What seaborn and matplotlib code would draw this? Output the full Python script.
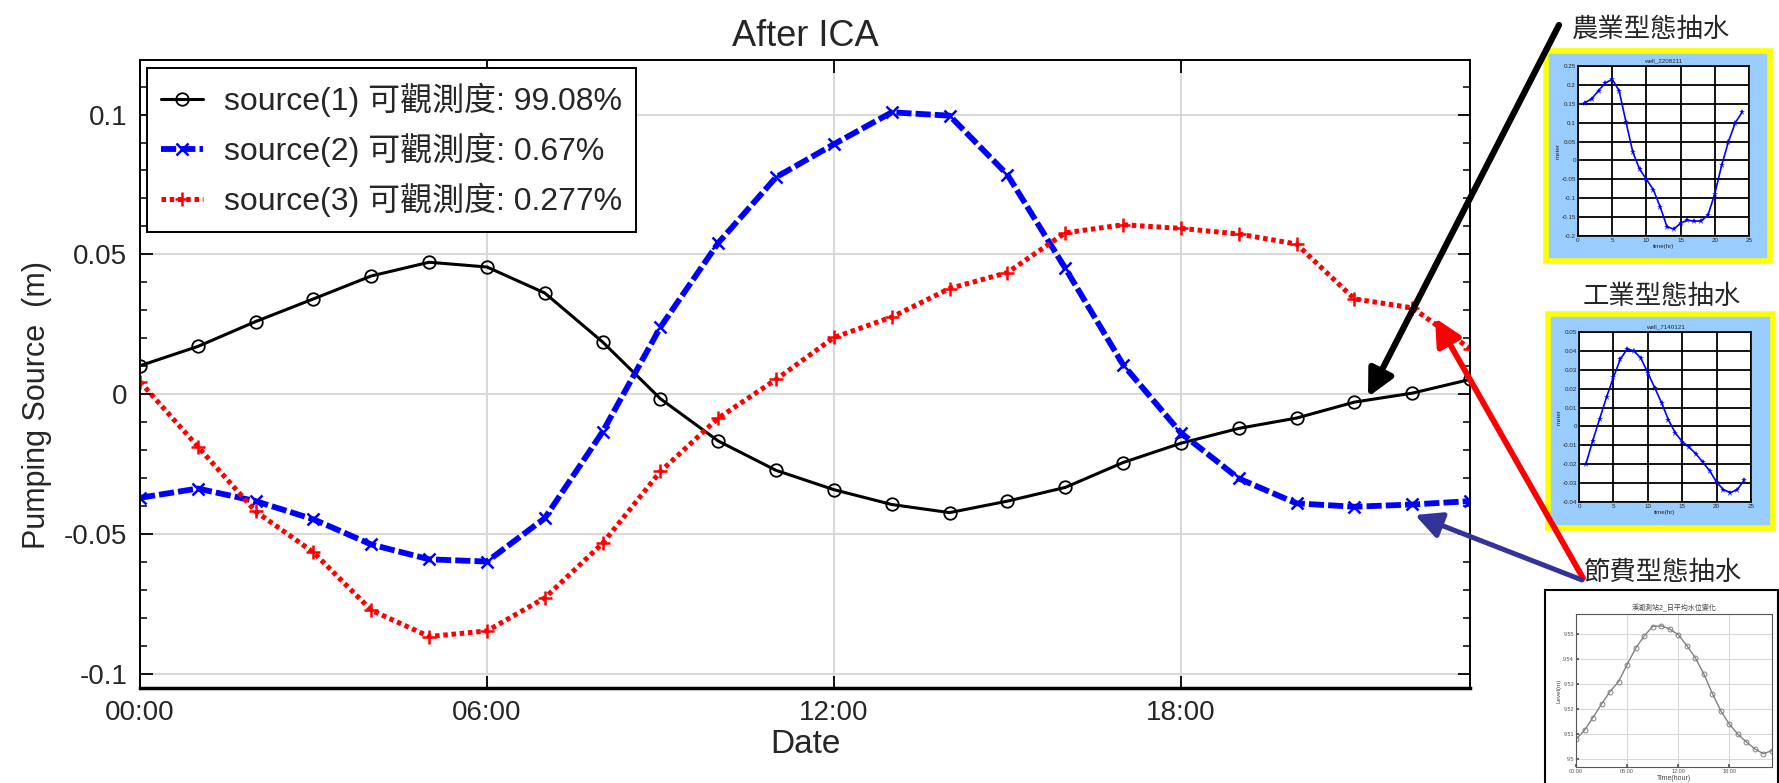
import matplotlib
matplotlib.use("Agg")
import matplotlib.pyplot as plt
from matplotlib.patches import Rectangle, FancyArrowPatch
from matplotlib.ticker import FixedLocator, MultipleLocator
import seaborn as sns

# --------------------------------------------------------------------------- #
# Data
# --------------------------------------------------------------------------- #
HOURS = list(range(24))
SOURCE1 = [0.0102, 0.0171, 0.0260, 0.0341, 0.0423, 0.0472, 0.0455, 0.0362,
           0.0187, -0.0016, -0.0167, -0.0272, -0.0341, -0.0394, -0.0423, -0.0382,
           -0.0333, -0.0244, -0.0175, -0.0122, -0.0085, -0.0028, 0.0004, 0.0053]
SOURCE2 = [-0.0370, -0.0337, -0.0382, -0.0447, -0.0537, -0.0590, -0.0598, -0.0443,
           -0.0134, 0.0240, 0.0541, 0.0776, 0.0894, 0.1008, 0.0996, 0.0785,
           0.0451, 0.0106, -0.0138, -0.0301, -0.0390, -0.0402, -0.0394, -0.0382]
SOURCE3 = [0.0045, -0.0187, -0.0419, -0.0565, -0.0772, -0.0866, -0.0846, -0.0728,
           -0.0533, -0.0276, -0.0085, 0.0053, 0.0203, 0.0276, 0.0378, 0.0435,
           0.0577, 0.0606, 0.0593, 0.0573, 0.0537, 0.0341, 0.0309, 0.0163]
LABELS = ["source(1) 可觀測度: 99.08%",
          "source(2) 可觀測度: 0.67%",
          "source(3) 可觀測度: 0.277%"]
X_TICKS = [0, 6, 12, 18]
X_TICK_LABELS = ["00:00", "06:00", "12:00", "18:00"]
Y_TICKS = [-0.1, -0.05, 0, 0.05, 0.1]
Y_TICK_LABELS = ["-0.1", "-0.05", "0", "0.05", "0.1"]

# inset series (hours 1..24)
INSET_HOURS = list(range(1, 25))
AGRI = [0.153, 0.163, 0.185, 0.205, 0.215, 0.185, 0.103, 0.023, -0.023, -0.050,
        -0.077, -0.122, -0.175, -0.182, -0.166, -0.158, -0.161, -0.160, -0.145,
        -0.088, -0.013, 0.050, 0.100, 0.128]
INDU = [-0.0200, -0.0075, 0.0040, 0.0155, 0.0260, 0.0355, 0.0410, 0.0400, 0.0360,
        0.0285, 0.0205, 0.0125, 0.0035, -0.0035, -0.0080, -0.0110, -0.0145, -0.0190,
        -0.0235, -0.0295, -0.0335, -0.0350, -0.0335, -0.0285]
SAVE = [9.5079, 9.5115, 9.5166, 9.5220, 9.5270, 9.5310, 9.5378, 9.5443, 9.5492,
        9.5530, 9.5533, 9.5520, 9.5497, 9.5454, 9.5405, 9.5340, 9.5262, 9.5192,
        9.5139, 9.5099, 9.5068, 9.5040, 9.5021, 9.5034]

W, H = 1779, 783

sns.set_theme(style="ticks")
plt.rcParams["font.family"] = ["Liberation Sans", "Noto Sans CJK TC", "DejaVu Sans"]
plt.rcParams["axes.unicode_minus"] = False


def box(x0, y0, x1, y1):
    """pixel box (top-left origin) -> figure fraction rect"""
    return [x0 / W, 1 - y1 / H, (x1 - x0) / W, (y1 - y0) / H]


def fpt(x, y):
    return (x / W, 1 - y / H)


fig = plt.figure(figsize=(W / 100, H / 100), dpi=100)

# --------------------------------------------------------------------------- #
# Main chart
# --------------------------------------------------------------------------- #
ax = fig.add_axes(box(140, 60, 1470, 688))
styles = [
    dict(color="black", linestyle="-", linewidth=2.2, marker="o", markersize=9,
         markerfacecolor="none", markeredgecolor="black", markeredgewidth=1.3),
    dict(color="#0000ff", linestyle=(0, (2.6, 0.7)), linewidth=4.2, marker="x",
         markersize=9, markeredgewidth=1.8, markeredgecolor="#0000ff"),
    dict(color="#ff0000", linestyle=(0, (0.9, 0.75)), linewidth=3.6, marker="+",
         markersize=10, markeredgewidth=1.8, markeredgecolor="#ff0000"),
]
for vals, lab, st in zip([SOURCE1, SOURCE2, SOURCE3], LABELS, styles):
    sns.lineplot(x=HOURS, y=vals, ax=ax, label=lab, **st)

ax.set_xlim(0, 23)
ax.set_ylim(-0.105, 0.1195)
ax.xaxis.set_major_locator(FixedLocator(X_TICKS))
ax.set_xticklabels(X_TICK_LABELS)
ax.yaxis.set_major_locator(FixedLocator(Y_TICKS))
ax.set_yticklabels(Y_TICK_LABELS)
ax.yaxis.set_minor_locator(MultipleLocator(0.01))
ax.grid(True, which="major", color="#d9d9d9", linewidth=1.5)
ax.tick_params(which="both", direction="in", top=True, right=True, color="black")
ax.tick_params(which="major", length=9, width=1.3, labelsize=20, pad=9)
ax.tick_params(which="minor", length=5, width=1.1)
ax.tick_params(axis="x", which="minor", top=False, bottom=False)
for s in ax.spines.values():
    s.set_color("black")
    s.set_linewidth(1.4)
ax.spines["bottom"].set_linewidth(2.5)
ax.set_xlabel("Date", fontsize=24, labelpad=2)
ax.set_ylabel("Pumping Source  (m)", fontsize=22)
ax.yaxis.set_label_coords(-0.066, 0.45)
ax.set_title("After ICA", fontsize=26, pad=10)
leg = ax.legend(loc="upper left", bbox_to_anchor=(0.0053, 0.987), borderaxespad=0,
                fontsize=23, handlelength=1.3, handletextpad=0.65, labelspacing=0.5,
                fancybox=False, framealpha=1, edgecolor="black", borderpad=0.45)
leg.get_frame().set_linewidth(1.4)

# --------------------------------------------------------------------------- #
# Insets on the right
# --------------------------------------------------------------------------- #
def matlab_inset(rect_px, ax_px, title_px, title, well, vals, yticks, ylabels):
    x0, y0, x1, y1 = rect_px
    fig.add_artist(Rectangle((x0 / W, 1 - y1 / H), (x1 - x0) / W, (y1 - y0) / H,
                             transform=fig.transFigure, facecolor="#99ccff",
                             edgecolor="#ffff00", linewidth=4, zorder=-1))
    fig.text(*fpt(*title_px), title, fontsize=19, ha="center", va="center")
    iax = fig.add_axes(box(*ax_px))
    iax.set_facecolor("white")
    sns.lineplot(x=INSET_HOURS, y=vals, ax=iax, color="#0000ff", linewidth=1.2,
                 marker="*", markersize=5, markeredgewidth=0)
    iax.set_xlim(0, 25)
    iax.set_ylim(yticks[0], yticks[-1])
    iax.xaxis.set_major_locator(FixedLocator([0, 5, 10, 15, 20, 25]))
    iax.set_xticklabels(["0", "5", "10", "15", "20", "25"])
    iax.yaxis.set_major_locator(FixedLocator(yticks))
    iax.set_yticklabels(ylabels)
    iax.grid(True, color="black", linewidth=1.3)
    iax.tick_params(direction="in", length=2, labelsize=4.5, pad=1.5)
    for s in iax.spines.values():
        s.set_color("black")
        s.set_linewidth(1.2)
    iax.set_title(well, fontsize=4.5, pad=3)
    iax.set_xlabel("time(hr)", fontsize=4.5, labelpad=1)
    iax.set_ylabel("meter", fontsize=4.5, labelpad=1)


AGRI_TICKS = [-0.2, -0.15, -0.1, -0.05, 0, 0.05, 0.1, 0.15, 0.2, 0.25]
AGRI_LABELS = ["-0.2", "-0.15", "-0.1", "-0.05", "0", "0.05", "0.1", "0.15", "0.2", "0.25"]
INDU_TICKS = [-0.04, -0.03, -0.02, -0.01, 0, 0.01, 0.02, 0.03, 0.04, 0.05]
INDU_LABELS = ["-0.04", "-0.03", "-0.02", "-0.01", "0", "0.01", "0.02", "0.03", "0.04", "0.05"]

matlab_inset((1546, 51, 1770, 261), (1578, 66, 1749, 236), (1651, 30),
             "農業型態抽水", "well_2208211", AGRI, AGRI_TICKS, AGRI_LABELS)
matlab_inset((1548, 314, 1773, 528), (1579, 332, 1751, 502), (1662, 297),
             "工業型態抽水", "well_7140121", INDU, INDU_TICKS, INDU_LABELS)

# 節費型態 inset
fig.add_artist(Rectangle((1545 / W, -0.05), (1778 - 1545) / W, 0.05 + 1 - 590 / H,
                         transform=fig.transFigure, facecolor="white",
                         edgecolor="black", linewidth=1.5, zorder=-1))
fig.text(*fpt(1663, 573), "節費型態抽水", fontsize=19, ha="center", va="center")
sax = fig.add_axes(box(1576, 614, 1772, 767))
sns.lineplot(x=HOURS, y=SAVE, ax=sax, color="#808080", linewidth=1.0, marker="o",
             markersize=3.5, markerfacecolor="none", markeredgecolor="#808080",
             markeredgewidth=0.7)
sax.set_xlim(0, 23)
sax.set_ylim(9.4968, 9.558)
sax.xaxis.set_major_locator(FixedLocator(X_TICKS))
sax.set_xticklabels(X_TICK_LABELS)
sax.yaxis.set_major_locator(FixedLocator([9.5, 9.51, 9.52, 9.53, 9.54, 9.55]))
sax.set_yticklabels(["9.5", "9.51", "9.52", "9.53", "9.54", "9.55"])
sax.grid(True, color="#d9d9d9", linewidth=0.8)
sax.tick_params(direction="in", length=2, labelsize=4, pad=1.5, colors="#555555")
for s in sax.spines.values():
    s.set_color("#555555")
    s.set_linewidth(0.8)
sax.set_title("溪湖測站2_日平均水位變化", fontsize=5, pad=3, color="#444444")
sax.set_xlabel("Time(hour)", fontsize=5, labelpad=1, color="#444444")
sax.set_ylabel("Level(m)", fontsize=4.5, labelpad=1, color="#444444")

# --------------------------------------------------------------------------- #
# Arrows
# --------------------------------------------------------------------------- #
arrows = [
    ((1559, 25), (1368, 397), "black", 4.5),
    ((1583, 578), (1435, 318), "#ff0000", 4.2),
    ((1582, 580), (1415, 515), "#333399", 3.6),
]
for start, end, col, lw in arrows:
    fig.add_artist(FancyArrowPatch(fpt(*start), fpt(*end), transform=fig.transFigure,
                                   arrowstyle="-|>,head_length=0.8,head_width=0.4",
                                   mutation_scale=20, linewidth=lw, color=col,
                                   shrinkA=0, shrinkB=0, zorder=5))

fig.savefig("out.png", dpi=100)
plt.close(fig)
